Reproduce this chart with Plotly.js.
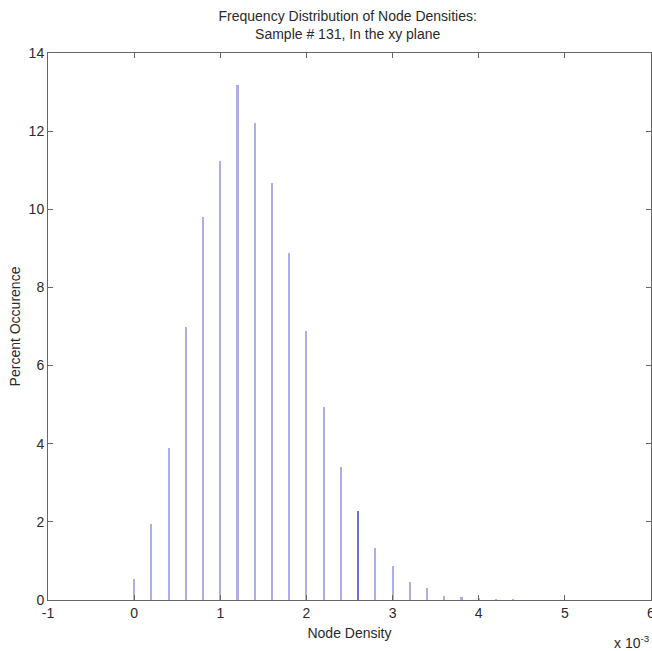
<!DOCTYPE html>
<html>
<head>
<meta charset="utf-8">
<script src="https://cdn.plot.ly/plotly-3.0.1.min.js"></script>
<style>
  html, body { margin: 0; padding: 0; background: #fff; }
  #chart { width: 652px; height: 651px; }
</style>
</head>
<body>
<div id="chart"></div>
<script>
// Node density (x 10^-3) bin centres
const nodeDensity = [0, 0.2, 0.4, 0.6, 0.8, 1.0, 1.2, 1.4, 1.6, 1.8, 2.0, 2.2, 2.4, 2.6, 2.8, 3.0, 3.2, 3.4, 3.6, 3.8, 4.0, 4.2, 4.4];
// Percent occurrence per bin
const percentOccurence = [0.53, 1.94, 3.88, 7.0, 9.8, 11.23, 13.17, 12.2, 10.67, 8.87, 6.88, 4.95, 3.41, 2.28, 1.32, 0.88, 0.47, 0.30, 0.11, 0.08, 0.04, 0.02, 0.02];
const xTicks = [-1, 0, 1, 2, 3, 4, 5, 6];
const yTicks = [0, 2, 4, 6, 8, 10, 12, 14];

const barColors = nodeDensity.map(v => Math.abs(v - 2.6) < 1e-9 ? '#6f6fd2' : '#adadea');

const trace = {
  type: 'bar',
  x: nodeDensity,
  y: percentOccurence,
  width: 0.024,
  marker: { color: barColors, line: { width: 0 } },
  hoverinfo: 'x+y'
};

const FAM = 'Liberation Sans, Arial, Helvetica, sans-serif';
const TXT = '#2a2a2a';
const AX = '#666666';

const layout = {
  width: 652,
  height: 651,
  margin: { l: 48, r: 1, t: 53, b: 51 },
  paper_bgcolor: '#ffffff',
  plot_bgcolor: '#ffffff',
  showlegend: false,
  font: { family: FAM, size: 14, color: TXT },
  title: {
    text: 'Frequency Distribution of Node Densities:<br>Sample # 131, In the xy plane',
    font: { family: FAM, size: 14, color: TXT },
    xref: 'paper', x: 0.497, xanchor: 'center',
    yref: 'container', y: 0.968, yanchor: 'top'
  },
  xaxis: {
    range: [-1, 6],
    tickvals: xTicks,
    ticktext: xTicks.map(String),
    ticks: 'inside',
    ticklen: 5,
    tickcolor: AX,
    showline: true,
    linecolor: AX,
    linewidth: 1,
    mirror: 'ticks',
    showgrid: false,
    zeroline: false,
    ticklabeloverflow: 'allow',
    tickfont: { family: FAM, size: 14, color: TXT },
    title: { text: 'Node Density', font: { family: FAM, size: 14, color: TXT }, standoff: 8 }
  },
  yaxis: {
    range: [0, 14],
    tickvals: yTicks,
    ticktext: yTicks.map(String),
    ticks: 'inside',
    ticklen: 5,
    tickcolor: AX,
    showline: true,
    linecolor: AX,
    linewidth: 1,
    mirror: 'ticks',
    showgrid: false,
    zeroline: false,
    ticklabelstandoff: 0,
    tickfont: { family: FAM, size: 14, color: TXT },
    title: { text: 'Percent Occurence', font: { family: FAM, size: 14, color: TXT }, standoff: 4 }
  },
  bargap: 0,
  annotations: [{
    text: 'x 10<sup>-3</sup>',
    xref: 'paper', yref: 'paper',
    x: 0.935, y: -0.076,
    xanchor: 'left', yanchor: 'middle',
    showarrow: false,
    font: { family: FAM, size: 14, color: TXT }
  }]
};

Plotly.newPlot('chart', [trace], layout, { displayModeBar: false, staticPlot: true });
</script>
</body>
</html>
